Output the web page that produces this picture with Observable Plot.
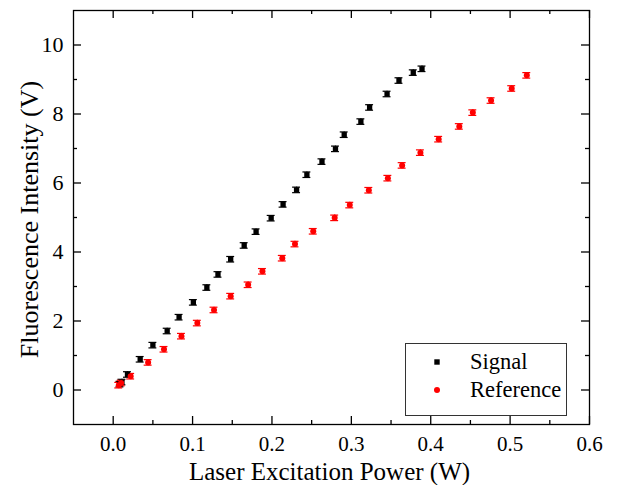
<!DOCTYPE html>
<html>
<head>
<meta charset="utf-8">
<script src="https://cdn.jsdelivr.net/npm/d3@7"></script>
<script src="https://cdn.jsdelivr.net/npm/@observablehq/plot@0.6"></script>
<style>
  body { margin: 0; background: white; }
  #wrap { position: relative; width: 618px; height: 485px; font-family: "Liberation Serif", "Times New Roman", serif; }
  #wrap svg text { font-family: "Liberation Serif", "Times New Roman", serif !important; font-variant: normal !important; }
  #legend { position: absolute; left: 405px; top: 343px; width: 160px; height: 71px; border: 1px solid #333; background: white; }
  .row { position: absolute; left: 0; height: 24px; line-height: 24px; font-size: 22.5px; color: black; }
  .row span.t { position: absolute; left: 64px; white-space: nowrap; }
  .row svg { position: absolute; left: 25px; top: 6px; }
</style>
</head>
<body>
<div id="wrap"></div>
<script>
// Data
const seriesNames = ["Signal", "Reference"];
const seriesColors = ["black", "#ff0000"];

const signalX = [0.0085, 0.011, 0.018, 0.034, 0.050, 0.068, 0.083, 0.101, 0.118, 0.132, 0.148, 0.165, 0.180, 0.199, 0.214, 0.231, 0.244, 0.263, 0.280, 0.291, 0.312, 0.323, 0.345, 0.360, 0.378, 0.389];
const signalY = [0.17, 0.23, 0.45, 0.89, 1.30, 1.71, 2.11, 2.54, 2.97, 3.35, 3.79, 4.19, 4.59, 4.98, 5.38, 5.80, 6.24, 6.62, 6.99, 7.40, 7.78, 8.19, 8.58, 8.97, 9.20, 9.31];

const referenceX = [0.007, 0.010, 0.022, 0.044, 0.064, 0.086, 0.106, 0.127, 0.148, 0.170, 0.188, 0.213, 0.229, 0.252, 0.279, 0.298, 0.322, 0.346, 0.364, 0.387, 0.410, 0.436, 0.453, 0.476, 0.502, 0.521];
const referenceY = [0.14, 0.20, 0.40, 0.80, 1.18, 1.56, 1.94, 2.32, 2.72, 3.05, 3.44, 3.82, 4.23, 4.60, 4.99, 5.36, 5.79, 6.14, 6.51, 6.88, 7.27, 7.64, 8.04, 8.39, 8.74, 9.12];

const errY = 0.08;     // half-height of error bars (V)
const capHalf = 0.005; // half-width of error caps (W)

const majorX = [0, 0.1, 0.2, 0.3, 0.4, 0.5, 0.6];
const minorX = [0.05, 0.15, 0.25, 0.35, 0.45, 0.55];
const majorY = [0, 2, 4, 6, 8, 10];
const minorY = [1, 3, 5, 7, 9];

const xTitle = "Laser Excitation Power (W)";
const yTitle = "Fluorescence Intensity (V)";

const signal = signalX.map((x, i) => ({x, y: signalY[i]}));
const reference = referenceX.map((x, i) => ({x, y: referenceY[i]}));

const FONT = "'Liberation Serif', 'Times New Roman', serif";
const W = 618, H = 485, mL = 73, mR = 29, mT = 10, mB = 61;
const pw = W - mL - mR, ph = H - mT - mB;
const sw = 1.3;

function errMarks(data, color) {
  return [
    Plot.ruleX(data, {x: "x", y1: d => d.y - errY, y2: d => d.y + errY, stroke: color, strokeWidth: 1.2}),
    Plot.ruleY(data, {y: d => d.y + errY, x1: d => d.x - capHalf, x2: d => d.x + capHalf, stroke: color, strokeWidth: 1.2}),
    Plot.ruleY(data, {y: d => d.y - errY, x1: d => d.x - capHalf, x2: d => d.x + capHalf, stroke: color, strokeWidth: 1.2})
  ];
}

const chart = Plot.plot({
  width: W, height: H,
  marginLeft: mL, marginRight: mR, marginTop: mT, marginBottom: mB,
  x: {domain: [-0.05, 0.6], label: null},
  y: {domain: [-1, 11], label: null},
  style: {fontFamily: FONT, background: "white", color: "black", overflow: "visible"},
  marks: [
    // inward ticks
    Plot.ruleX(majorX, {insetTop: ph - 8, strokeWidth: sw}),
    Plot.ruleX(majorX, {insetBottom: ph - 8, strokeWidth: sw}),
    Plot.ruleX(minorX, {insetTop: ph - 4, strokeWidth: sw}),
    Plot.ruleX(minorX, {insetBottom: ph - 4, strokeWidth: sw}),
    Plot.ruleY(majorY, {insetRight: pw - 8, strokeWidth: sw}),
    Plot.ruleY(majorY, {insetLeft: pw - 8, strokeWidth: sw}),
    Plot.ruleY(minorY, {insetRight: pw - 4, strokeWidth: sw}),
    Plot.ruleY(minorY, {insetLeft: pw - 4, strokeWidth: sw}),
    Plot.axisX(majorX, {tickSize: 0, tickPadding: 12, fontSize: 21, fontFamily: FONT, tickFormat: d3.format(".1f"), label: null}),
    Plot.axisY(majorY, {tickSize: 0, tickPadding: 10, fontSize: 22, fontFamily: FONT, tickFormat: d => String(d), label: null}),
    Plot.frame({stroke: "black", strokeWidth: sw}),
    ...errMarks(signal, seriesColors[0]),
    ...errMarks(reference, seriesColors[1]),
    Plot.dot(signal, {x: "x", y: "y", symbol: "square", r: 3, fill: seriesColors[0], stroke: "none"}),
    Plot.dot(reference, {x: "x", y: "y", symbol: "circle", r: 3, fill: seriesColors[1], stroke: "none"}),
    Plot.text([xTitle], {text: d => d, frameAnchor: "bottom", textAnchor: "middle", dy: 55, dx: -2, lineAnchor: "bottom", fontSize: 25, fontFamily: FONT, fill: "black"}),
    Plot.text([yTitle], {text: d => d, frameAnchor: "left", textAnchor: "middle", dx: -36, dy: 2, rotate: -90, lineAnchor: "bottom", fontSize: 26, fontFamily: FONT, fill: "black"})
  ]
});

const wrap = document.getElementById("wrap");
wrap.appendChild(chart);

// Legend (HTML overlay)
const legend = document.createElement("div");
legend.id = "legend";
const rowTops = [6, 34];
seriesNames.forEach((name, i) => {
  const row = document.createElement("div");
  row.className = "row";
  row.style.top = rowTops[i] + "px";
  row.style.width = "160px";
  const shape = i === 0
    ? `<svg width="12" height="12"><rect x="3.3" y="3.3" width="5.4" height="5.4" fill="${seriesColors[i]}"/></svg>`
    : `<svg width="12" height="12"><circle cx="6" cy="6" r="3" fill="${seriesColors[i]}"/></svg>`;
  row.innerHTML = shape + `<span class="t">${name}</span>`;
  legend.appendChild(row);
});
wrap.appendChild(legend);
</script>
</body>
</html>
